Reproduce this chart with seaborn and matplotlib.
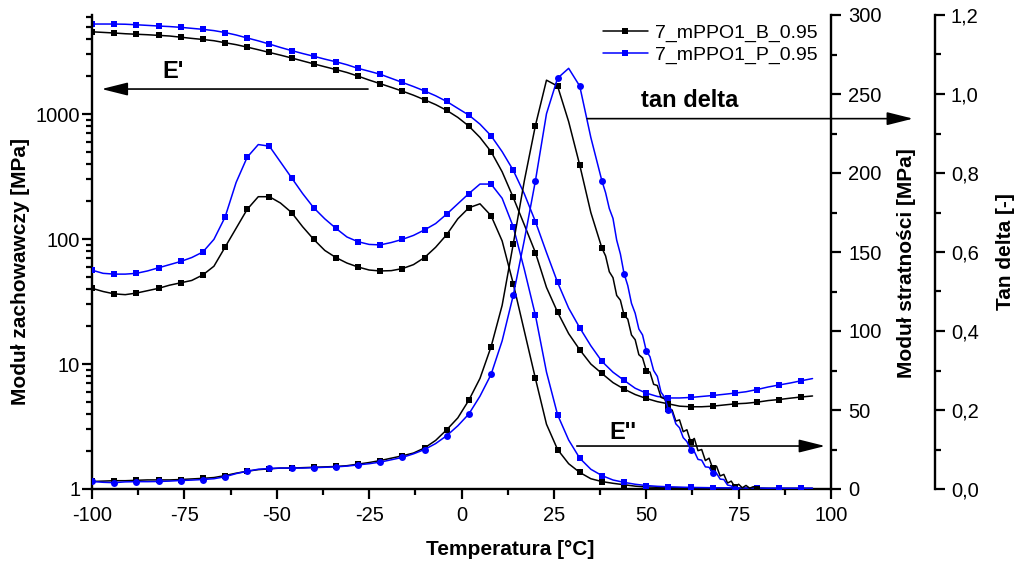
# DMA curves: storage modulus E', loss modulus E'' and tan delta for two samples

import numpy as np
import matplotlib.pyplot as plt
import seaborn as sns
from matplotlib.lines import Line2D
from matplotlib.ticker import MultipleLocator, LogLocator, NullFormatter, FuncFormatter

sns.set_style('ticks')
plt.rcParams['font.family'] = ['Liberation Sans', 'DejaVu Sans']
plt.rcParams['axes.unicode_minus'] = False
for k in ['text.color', 'axes.labelcolor', 'axes.edgecolor', 'xtick.color', 'ytick.color']:
    plt.rcParams[k] = 'black'

# temperature grid [C]
temp = [-100, -97, -94, -91, -88, -85, -82, -79, -76, -73,
        -70, -67, -64, -61, -58, -55, -52, -49, -46, -43,
        -40, -37, -34, -31, -28, -25, -22, -19, -16, -13,
        -10, -7, -4, -1, 2, 5, 8, 11, 14, 17,
        20, 23, 26, 29, 32, 35, 38, 41, 44, 47,
        50, 53, 56, 59, 62, 65, 68, 71, 74, 77,
        80, 83, 86, 89, 92, 95]

# storage modulus E' [MPa]
ep_B = [4550, 4500, 4450, 4390, 4350, 4310, 4260, 4210, 4120, 4030,
        3950, 3860, 3720, 3590, 3430, 3270, 3110, 2960, 2810, 2660,
        2520, 2390, 2270, 2150, 2010, 1870, 1750, 1635, 1525, 1415,
        1300, 1190, 1070, 940, 800, 650, 500, 345, 215, 130,
        78, 41, 26, 17.5, 13, 10, 8.4, 7.1, 6.3, 5.7,
        5.3, 5.0, 4.8, 4.6, 4.55, 4.55, 4.6, 4.7, 4.8, 4.85,
        4.95, 5.1, 5.2, 5.33, 5.45, 5.55]
ep_P = [5250, 5250, 5250, 5230, 5180, 5120, 5060, 5010, 4940, 4850,
        4760, 4650, 4490, 4290, 4060, 3850, 3630, 3410, 3220, 3050,
        2900, 2750, 2620, 2480, 2320, 2200, 2080, 1930, 1790, 1660,
        1530, 1400, 1260, 1110, 980, 830, 670, 500, 355, 230,
        138, 78, 45, 28, 19.5, 14, 10.5, 8.6, 7.4, 6.4,
        5.85, 5.5, 5.35, 5.35, 5.4, 5.5, 5.6, 5.72, 5.85, 6.0,
        6.25, 6.55, 6.8, 7.05, 7.35, 7.65]

# loss modulus E'' [MPa]
epp_B = [127, 125, 123.5, 123, 124, 125.5, 127, 129, 130.5, 132,
         135.5, 141, 153, 165, 177, 185, 185, 181, 175, 166,
         158, 151, 146.5, 143, 140.5, 138.6, 138, 138.2, 139.5, 142,
         146.5, 153, 161, 171, 178, 180.5, 173, 157, 130, 100,
         70, 41, 25, 16, 10.5, 6.5, 4.7, 3.6, 2.7, 1.8,
         1.3, 1.1, 0.9, 0.8, 0.7, 0.6, 0.6, 0.5, 0.5, 0.5,
         0.5, 0.4, 0.4, 0.4, 0.4, 0.4]
epp_P = [138.5, 136.5, 136, 136, 136.5, 138, 140, 142, 144, 146.5,
         150, 158, 172, 194, 210, 218, 217, 207, 197, 187,
         178, 171, 165, 159.5, 156.5, 154.8, 154.5, 156, 158, 160.5,
         164, 168, 174, 180.5, 187, 193, 193, 184, 166, 139,
         110, 74, 47, 31, 19.5, 12.5, 8.5, 5.7, 4.2, 3.0,
         2.2, 1.7, 1.4, 1.2, 1.0, 0.9, 0.8, 0.7, 0.7, 0.6,
         0.6, 0.5, 0.5, 0.5, 0.5, 0.5]

# tan delta: coarse part up to 38 C, then the noisy tail every 1 C
tail_temp = [39, 40, 41, 42, 43, 44, 45, 46, 47, 48, 49, 50, 51, 52,
             53, 54, 55, 56, 57, 58, 59, 60, 61, 62, 63, 64, 65, 66,
             67, 68, 69, 70, 71, 72, 73, 74, 75, 76, 77, 78, 79, 80]
tan_B = [0.019, 0.020, 0.021, 0.021, 0.022, 0.023, 0.023, 0.023, 0.024, 0.0255,
         0.027, 0.029, 0.034, 0.040, 0.045, 0.049, 0.051, 0.053, 0.053, 0.054,
         0.055, 0.056, 0.057, 0.059, 0.063, 0.067, 0.072, 0.078, 0.084, 0.091,
         0.104, 0.123, 0.150, 0.180, 0.225, 0.28, 0.36, 0.465, 0.62, 0.78,
         0.92, 1.035, 1.02, 0.93, 0.82, 0.70, 0.61]
tan_B_tail = [0.59, 0.55, 0.535, 0.49, 0.478, 0.44, 0.43, 0.39, 0.378, 0.34,
              0.332, 0.30, 0.296, 0.265, 0.262, 0.232, 0.228, 0.203, 0.20, 0.172,
              0.175, 0.145, 0.15, 0.12, 0.128, 0.097, 0.10, 0.072, 0.078, 0.052,
              0.058, 0.033, 0.037, 0.015, 0.02, 0.005, 0.012, 0.003, 0.009, 0.002,
              0.006, 0.0]
tan_P = [0.019, 0.017, 0.016, 0.018, 0.0186, 0.0186, 0.019, 0.020, 0.0215, 0.0225,
         0.024, 0.026, 0.031, 0.039, 0.045, 0.050, 0.052, 0.053, 0.053, 0.053,
         0.054, 0.055, 0.056, 0.058, 0.061, 0.064, 0.068, 0.074, 0.080, 0.089,
         0.100, 0.115, 0.135, 0.16, 0.19, 0.235, 0.29, 0.375, 0.49, 0.63,
         0.78, 0.95, 1.04, 1.065, 1.02, 0.89, 0.78]
tan_P_tail = [0.75, 0.71, 0.685, 0.63, 0.595, 0.545, 0.515, 0.47, 0.445, 0.405,
              0.39, 0.35, 0.335, 0.30, 0.285, 0.245, 0.232, 0.20, 0.195, 0.165,
              0.155, 0.13, 0.12, 0.10, 0.095, 0.075, 0.073, 0.056, 0.055, 0.04,
              0.04, 0.025, 0.024, 0.01, 0.008, 0.0,
              np.nan, np.nan, np.nan, np.nan, np.nan, np.nan]

labels = ['7_mPPO1_B_0.95', '7_mPPO1_P_0.95']
colors = ['black', '#0000ff']

tan_temp = temp[:47] + tail_temp
mark_main = list(range(0, 66, 2))

fig = plt.figure(figsize=(10.23, 5.64), dpi=100)
ax = fig.add_axes([92 / 1023, 1 - 489 / 564, 739 / 1023, 474 / 564])
ax2 = ax.twinx()
ax3 = ax.twinx()
ax3.spines['right'].set_position(('axes', 1.1407))

line_kw = dict(lw=1.1, markersize=5, estimator=None, sort=False, legend=False)

for i, (ep, epp, tn, tn_tail) in enumerate([(ep_B, epp_B, tan_B, tan_B_tail),
                                            (ep_P, epp_P, tan_P, tan_P_tail)]):
    c = colors[i]
    sns.lineplot(x=temp, y=ep, ax=ax, color=c, marker='s', markevery=mark_main,
                 markeredgewidth=0, **line_kw)
    sns.lineplot(x=temp, y=epp, ax=ax2, color=c, marker='s', markevery=mark_main,
                 markeredgewidth=0, **line_kw)
    tn_all = np.array(tn + tn_tail, dtype=float)
    ok = ~np.isnan(tn_all)
    tt = np.array(tan_temp)[ok]
    mk = [j for j, t in enumerate(tt) if (t + 100) % 6 == 0]
    sns.lineplot(x=tt, y=tn_all[ok], ax=ax3, color=c,
                 marker='s' if i == 0 else 'o', markevery=mk,
                 markeredgewidth=0, **line_kw)

# axes setup
ax.set_xlim(-100, 100)
ax.set_yscale('log')
ax.set_ylim(1, 6200)
ax2.set_ylim(0, 300)
ax3.set_ylim(0, 1.2)

ax.xaxis.set_major_locator(MultipleLocator(25))
ax.xaxis.set_minor_locator(MultipleLocator(12.5))
ax.yaxis.set_major_locator(LogLocator(base=10, numticks=10))
ax.yaxis.set_minor_locator(LogLocator(base=10, subs=np.arange(2, 10), numticks=10))
ax.yaxis.set_minor_formatter(NullFormatter())
ax.yaxis.set_major_formatter(FuncFormatter(lambda v, p: f'{v:g}'))
ax2.yaxis.set_major_locator(MultipleLocator(50))
ax2.yaxis.set_minor_locator(MultipleLocator(25))
ax3.yaxis.set_major_locator(MultipleLocator(0.2))
ax3.yaxis.set_minor_locator(MultipleLocator(0.1))
ax3.yaxis.set_major_formatter(FuncFormatter(lambda v, p: f'{v:.1f}'.replace('.', ',')))

for a in (ax, ax2, ax3):
    for s in a.spines.values():
        s.set_linewidth(1.7)
        s.set_color('black')
    a.tick_params(which='major', length=7.5, width=1.6, labelsize=14.5, colors='black')
    a.tick_params(which='minor', length=4, width=1.6, colors='black')
ax.tick_params(axis='y', which='both', pad=1)
ax.tick_params(axis='x', which='both', pad=5)
ax2.tick_params(axis='y', which='both', pad=5)
ax3.tick_params(axis='y', which='both', pad=4)

ax.spines['top'].set_visible(False)
ax.spines['right'].set_visible(False)
for a in (ax2, ax3):
    a.spines['top'].set_visible(False)
    a.spines['left'].set_visible(False)
    a.spines['bottom'].set_visible(False)

lab_kw = dict(fontsize=15, fontweight='bold', color='black')
ax.set_xlabel('Temperatura [°C]', **lab_kw)
ax.set_ylabel('Moduł zachowawczy [MPa]', **lab_kw)
ax2.set_ylabel('Moduł stratności [MPa]', **lab_kw)
ax3.set_ylabel('Tan delta [-]', **lab_kw)
ax.xaxis.set_label_coords(0.566, -0.107)
ax.yaxis.set_label_coords(-0.084, 0.459)
ax2.yaxis.set_label_coords(1.089, 0.476)
ax3.yaxis.set_label_coords(1.223, 0.5)

# annotations with arrows
arr = dict(arrowstyle='-|>,head_length=0.8,head_width=0.2', color='black',
           lw=1.2, mutation_scale=20, shrinkA=0, shrinkB=0)
ax.annotate('', xy=(-97.4, 1585), xytext=(-25.3, 1585), arrowprops=arr)
ax.text(-78, 2170, "E'", ha='center', va='center', fontsize=17, fontweight='bold')
ax3.annotate('', xy=(122.2, 0.9376), xytext=(34, 0.9376), arrowprops=arr,
             annotation_clip=False)
ax3.text(61.8, 0.983, 'tan delta', ha='center', va='center', fontsize=17,
         fontweight='bold')
ax2.annotate('', xy=(98.4, 27.2), xytext=(31.2, 27.2), arrowprops=arr,
             annotation_clip=False)
ax2.text(43.7, 36, "E''", ha='center', va='center', fontsize=17, fontweight='bold')

handles = [Line2D([], [], color=c, lw=1.1, marker='s', markersize=4,
                  markeredgewidth=0) for c in colors]
ax3.legend(handles, labels, loc='upper left', bbox_to_anchor=(0.6915, 0.98),
           frameon=False, borderpad=0, borderaxespad=0, handlelength=2.3,
           handletextpad=0.35, labelspacing=0.2, fontsize=14)

fig.savefig('out.png', dpi=100)
